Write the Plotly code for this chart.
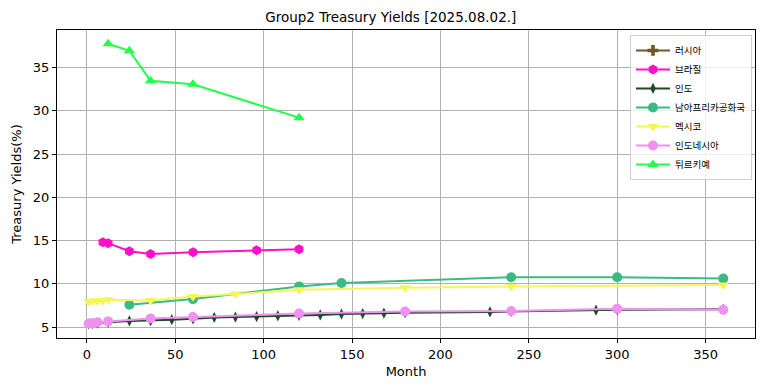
import plotly.graph_objects as go

title = "Group2 Treasury Yields [2025.08.02.]"

russia_m = []
russia_y = []

brazil_m = [9, 12, 24, 36, 60, 96, 120]
brazil_y = [14.81, 14.7, 13.77, 13.46, 13.66, 13.89, 14.0]

india_m = [1, 3, 6, 12, 24, 36, 48, 60, 72, 84, 96, 108, 120, 132, 144, 156, 168, 180, 228, 240, 288, 300, 360]
india_y = [5.35, 5.4, 5.45, 5.55, 5.7, 5.75, 5.85, 5.95, 6.1, 6.15, 6.2, 6.3, 6.35, 6.4, 6.5, 6.55, 6.6, 6.65, 6.75, 6.8, 6.95, 7.0, 7.05]

safrica_m = [24, 60, 120, 144, 240, 300, 360]
safrica_y = [7.58, 8.23, 9.7, 10.1, 10.75, 10.75, 10.6]

mexico_m = [1, 3, 6, 9, 12, 36, 60, 84, 120, 180, 240, 360]
mexico_y = [7.96, 8.0, 8.05, 8.07, 8.15, 8.07, 8.54, 8.81, 9.3, 9.55, 9.7, 9.85]

indonesia_m = [1, 3, 6, 12, 36, 60, 120, 180, 240, 300, 360]
indonesia_y = [5.4, 5.45, 5.55, 5.65, 6.0, 6.15, 6.55, 6.8, 6.85, 7.1, 7.0]

turkey_m = [12, 24, 36, 60, 120]
turkey_y = [37.77, 36.96, 33.49, 33.08, 29.22]

series = [
    ("러시아", russia_m, russia_y, "#6b5a24", "cross", 9),
    ("브라질", brazil_m, brazil_y, "#ff10c8", "hexagon", 10),
    ("인도", india_m, india_y, "#1b4d24", "diamond-tall", 8),
    ("남아프리카공화국", safrica_m, safrica_y, "#3bba84", "circle", 10),
    ("멕시코", mexico_m, mexico_y, "#f5f55c", "triangle-down", 10),
    ("인도네시아", indonesia_m, indonesia_y, "#f090f0", "circle", 10),
    ("튀르키예", turkey_m, turkey_y, "#22ff4c", "triangle-up", 10),
]

fig = go.Figure()
for name, m, y, c, sym, sz in series:
    fig.add_trace(go.Scatter(
        x=m if m else [None], y=y if y else [None], name=name, mode="lines+markers",
        line=dict(color=c, width=2),
        marker=dict(color=c, symbol=sym, size=sz, line=dict(width=0)),
    ))

axis_common = dict(
    showgrid=True, gridcolor="#b0b0b0", gridwidth=1,
    showline=True, linecolor="black", linewidth=1, mirror=True,
    ticks="outside", ticklen=4, tickcolor="black",
    tickfont=dict(family="DejaVu Sans", size=13, color="black"),
    zeroline=False, automargin=False,
)

fig.update_layout(
    width=764, height=391,
    margin=dict(l=49, r=17, t=22, b=61),
    paper_bgcolor="white", plot_bgcolor="white",
    title=dict(text=title, x=0.501, xanchor="center", y=0.977, yanchor="middle",
               font=dict(family="DejaVu Sans", size=13.5, color="black")),
    xaxis=dict(range=[-16.95, 377.95], tickvals=[0, 50, 100, 150, 200, 250, 300, 350],
               title=dict(text="Month", font=dict(family="DejaVu Sans", size=13, color="black"), standoff=6),
               **axis_common),
    yaxis=dict(range=[3.73, 39.36], tickvals=[5, 10, 15, 20, 25, 30, 35],
               title=dict(text="Treasury Yields(%)", font=dict(family="DejaVu Sans", size=13, color="black"), standoff=8),
               **axis_common),
    legend=dict(x=0.9957, xanchor="right", y=0.984, yanchor="top",
                bgcolor="rgba(255,255,255,0.8)", bordercolor="#d0d0d0", borderwidth=1,
                font=dict(family="Noto Sans CJK KR", size=9.5, color="black"),
                tracegroupgap=0, itemwidth=34),
    showlegend=True,
)

fig.write_html("out.html")
